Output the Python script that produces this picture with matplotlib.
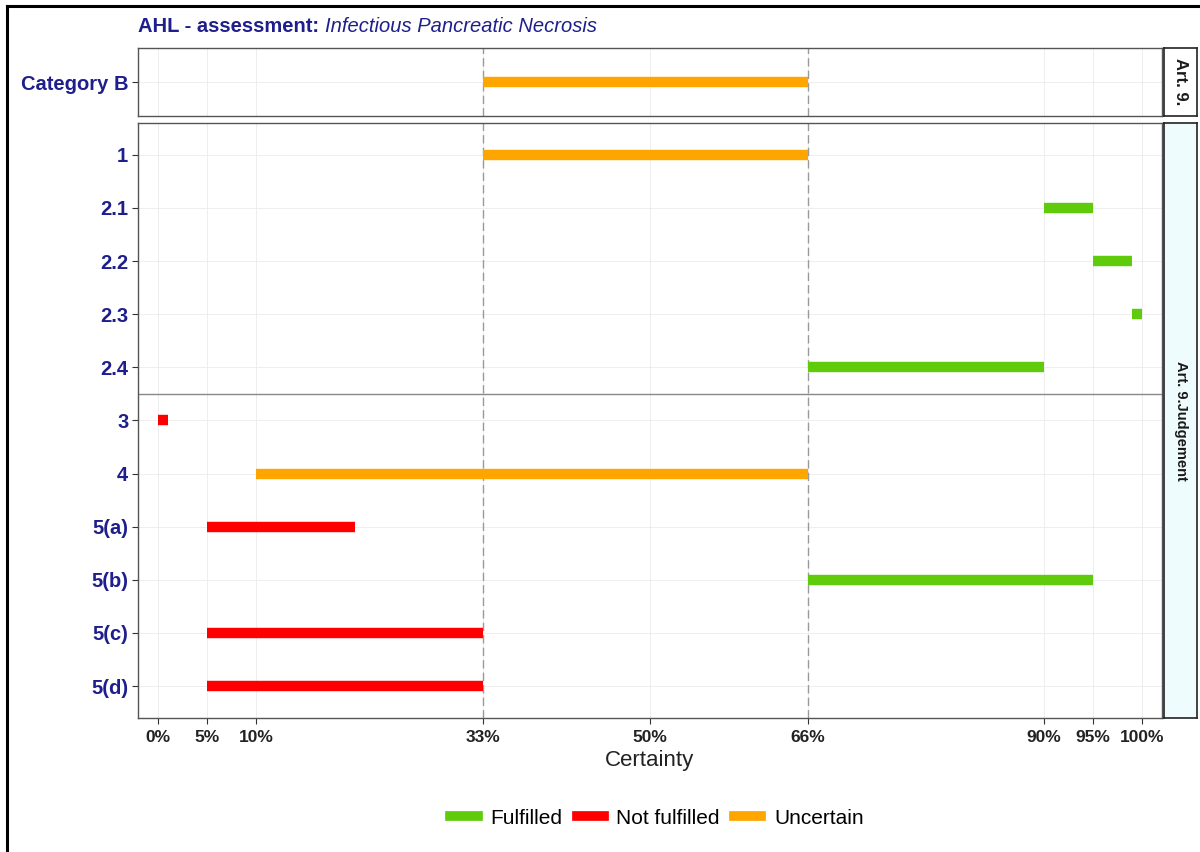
import matplotlib.pyplot as plt
from matplotlib.lines import Line2D

plt.rcParams['font.family'] = ['Liberation Sans', 'DejaVu Sans']

# data
top_labels = ["Category B"]
top_start = [33]
top_end = [66]
top_status = ["Uncertain"]

judg_labels = ["1", "2.1", "2.2", "2.3", "2.4", "3", "4", "5(a)", "5(b)", "5(c)", "5(d)"]
judg_start = [33, 90, 95, 99, 66, 0, 10, 5, 66, 5, 5]
judg_end = [66, 95, 99, 100, 90, 1, 66, 20, 95, 33, 33]
judg_status = ["Uncertain", "Fulfilled", "Fulfilled", "Fulfilled", "Fulfilled",
               "Not fulfilled", "Uncertain", "Not fulfilled", "Fulfilled",
               "Not fulfilled", "Not fulfilled"]

xticks = [0, 5, 10, 33, 50, 66, 90, 95, 100]
xtick_labels = ["0%", "5%", "10%", "33%", "50%", "66%", "90%", "95%", "100%"]

colors = {"Fulfilled": "#5FCB0B", "Not fulfilled": "#FF0000", "Uncertain": "#FFA500"}
navy = "#1E1E8C"

W, H = 1200, 852
fig = plt.figure(figsize=(W / 100, H / 100), dpi=100)

def px(l, t, r, b):
    return [l / W, 1 - b / H, (r - l) / W, (b - t) / H]

# outer border (top and left edge only visible)
fig.add_artist(Line2D([7 / W, 7 / W], [0, 1 - 6 / H], transform=fig.transFigure,
                      color="black", lw=2.2))
fig.add_artist(Line2D([7 / W, 1], [1 - 6 / H, 1 - 6 / H], transform=fig.transFigure,
                      color="black", lw=2.2))

ax_top = fig.add_axes(px(138, 48, 1162, 116))
ax_bot = fig.add_axes(px(138, 123, 1162, 718))


def style_panel(ax, labels, starts, ends, status):
    n = len(labels)
    ax.set_xlim(-2, 102)
    ax.set_ylim(n - 0.4, -0.6)
    for x in xticks:
        ax.axvline(x, color="#EBEBEB", lw=0.6, zorder=0)
    for i in range(n):
        ax.axhline(i, color="#EBEBEB", lw=0.6, zorder=0)
    for x in (33, 66):
        ax.axvline(x, color="#999999", lw=1.0, ls=(0, (6, 3)), zorder=1)
    for i, (s, e, st) in enumerate(zip(starts, ends, status)):
        ax.hlines(i, s, e, colors=colors[st], lw=7.5, zorder=3)
    ax.set_yticks(range(n))
    ax.set_yticklabels(labels, fontsize=14.5, fontweight="bold", color=navy)
    ax.tick_params(axis="y", length=4, color="#333333", pad=3)
    for sp in ax.spines.values():
        sp.set_color("#555555")
        sp.set_linewidth(1.0)


style_panel(ax_top, top_labels, top_start, top_end, top_status)
style_panel(ax_bot, judg_labels, judg_start, judg_end, judg_status)
ax_top.set_xticks([])
ax_bot.axhline(4.5, color="#888888", lw=1.0, zorder=2)

ax_bot.set_xticks(xticks)
ax_bot.set_xticklabels(xtick_labels, fontsize=12.5, fontweight="bold", color="#222222")
ax_bot.tick_params(axis="x", length=4, color="#333333", pad=5)
ax_bot.set_xlabel("Certainty", fontsize=16, color="#222222", labelpad=3)

# facet strips
s_top = fig.add_axes(px(1164, 48, 1197, 116))
s_bot = fig.add_axes(px(1164, 123, 1197, 718))
for s, txt, fc, fs in ((s_top, "Art. 9.", "white", 12),
                       (s_bot, "Art. 9.Judgement", "#EEFCFD", 10.5)):
    s.set_xticks([])
    s.set_yticks([])
    s.set_facecolor(fc)
    for sp in s.spines.values():
        sp.set_color("#222222")
        sp.set_linewidth(1.2)
    s.text(0.5, 0.5, txt, rotation=270, ha="center", va="center",
           fontsize=fs, fontweight="bold", color="#1A1A1A", transform=s.transAxes)

# title: bold prefix followed by italic disease name
t1 = fig.text(138 / W, 1 - 27 / H, "AHL - assessment: ", fontsize=14.5, fontweight="bold",
              color=navy, va="center", ha="left")
fig.canvas.draw()
bb = t1.get_window_extent()
fig.text(bb.x1 / W, 1 - 27 / H, "Infectious Pancreatic Necrosis", fontsize=14.5,
         style="italic", color=navy, va="center", ha="left")

# legend
handles = [Line2D([0], [0], color=colors[k], lw=7) for k in colors]
fig.legend(handles, list(colors.keys()), loc="center", bbox_to_anchor=(657 / W, 1 - 818 / H),
           ncol=3, frameon=False, fontsize=15, handlelength=1.3, columnspacing=0.7,
           handletextpad=0.6)

fig.savefig("out.png", dpi=100)
